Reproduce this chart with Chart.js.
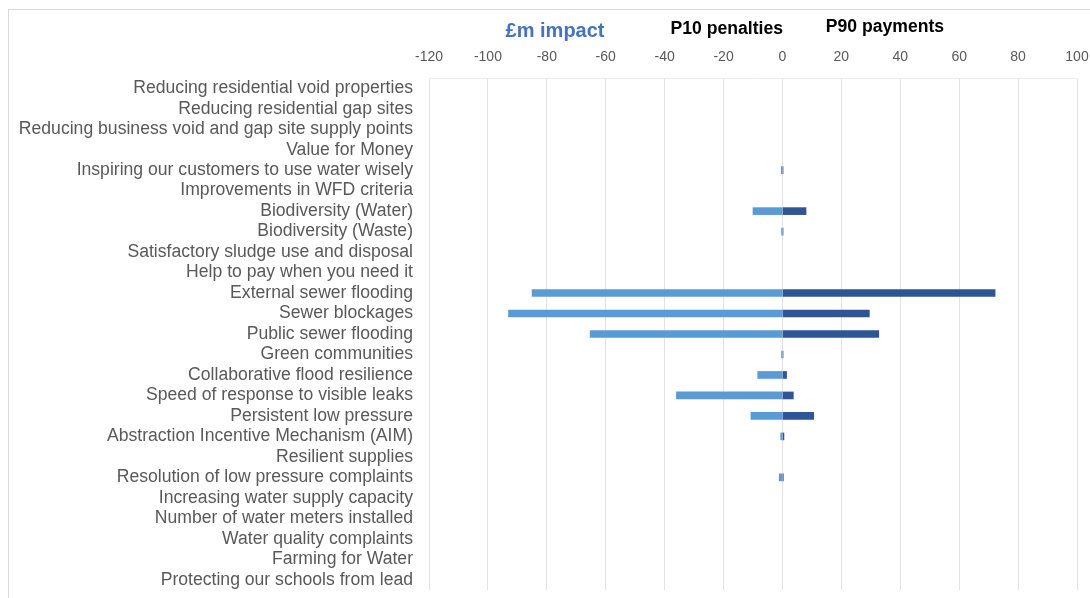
<!DOCTYPE html>
<html>
<head>
<meta charset="utf-8">
<script src="https://cdn.jsdelivr.net/npm/chart.js@4"></script>
<style>
  html, body { margin: 0; padding: 0; background: #fff; overflow: hidden; }
  #wrap { position: relative; width: 1090px; height: 598px; }
  #frame { position: absolute; left: 8px; top: 9px; width: 1100px; height: 600px; border: 1px solid #d9d9d9; box-sizing: border-box; }
  canvas { position: absolute; left: 0; top: 0; }
</style>
</head>
<body>
<div id="wrap">
  <div id="frame"></div>
  <canvas id="chart" width="1090" height="598"></canvas>
</div>
<script>
// Performance commitments and their £m range (P10 downside, P90 upside)
const categories = [
  "Reducing residential void properties",
  "Reducing residential gap sites",
  "Reducing business void and gap site supply points",
  "Value for Money",
  "Inspiring our customers to use water wisely",
  "Improvements in WFD criteria",
  "Biodiversity (Water)",
  "Biodiversity (Waste)",
  "Satisfactory sludge use and disposal",
  "Help to pay when you need it",
  "External sewer flooding",
  "Sewer blockages",
  "Public sewer flooding",
  "Green communities",
  "Collaborative flood resilience",
  "Speed of response to visible leaks",
  "Persistent low pressure",
  "Abstraction Incentive Mechanism (AIM)",
  "Resilient supplies",
  "Resolution of low pressure complaints",
  "Increasing water supply capacity",
  "Number of water meters installed",
  "Water quality complaints",
  "Farming for Water",
  "Protecting our schools from lead"
];

// null = no value for that commitment
const p10Penalties = [
  null, null, null, null, -0.4, null, -10, -0.3, null, null,
  -85, -93, -65.3, -0.3, -8.4, -36, -10.7, -0.6, null, -1.1,
  null, null, null, null, null
];

const p90Payments = [
  null, null, null, null, 0.2, null, 8, 0.2, null, null,
  72.2, 29.5, 32.7, 0.2, 1.4, 3.7, 10.6, 0.5, null, 0.3,
  null, null, null, null, null
];

const axisMin = -120;
const axisMax = 100;
const axisStep = 20;

const headings = [
  { text: "£m impact", at: -77.2, y: 31, color: "#4472C4", size: 20 },
  { text: "P10 penalties", at: -18.9, y: 29, color: "#000000", size: 17.6 },
  { text: "P90 payments", at: 34.8, y: 27, color: "#000000", size: 17.6 }
];

const headingPlugin = {
  id: "headings",
  afterDraw(chart) {
    const ctx = chart.ctx;
    const xs = chart.scales.x;
    ctx.save();
    ctx.textAlign = "center";
    ctx.textBaseline = "middle";
    headings.forEach(h => {
      ctx.font = "bold " + h.size + "px 'Liberation Sans', Arial, sans-serif";
      ctx.fillStyle = h.color;
      ctx.fillText(h.text, xs.getPixelForValue(h.at), h.y);
    });
    ctx.restore();
  }
};

const font = "'Liberation Sans', Arial, sans-serif";

new Chart(document.getElementById("chart"), {
  type: "bar",
  data: {
    labels: categories,
    datasets: [
      {
        label: "P10 penalties",
        data: p10Penalties,
        backgroundColor: "#5B9BD5",
        barThickness: 7
      },
      {
        label: "P90 payments",
        data: p90Payments,
        backgroundColor: "#2F5597",
        barThickness: 7
      }
    ]
  },
  options: {
    indexAxis: "y",
    responsive: false,
    animation: false,
    layout: { padding: { top: 0, right: 13, bottom: 8, left: 0 } },
    plugins: {
      legend: { display: false },
      tooltip: { enabled: false }
    },
    scales: {
      x: {
        position: "top",
        stacked: true,
        min: axisMin,
        max: axisMax,
        ticks: {
          stepSize: axisStep,
          color: "#595959",
          font: { family: font, size: 14 },
          padding: 12,
          maxRotation: 0
        },
        grid: { color: "#e3e3e3", drawTicks: false },
        border: { display: true, color: "#ececec" },
        afterFit(scale) {
          scale.height = 78;
          scale.paddingLeft = 0;
          scale.paddingRight = 0;
        }
      },
      y: {
        stacked: true,
        ticks: {
          color: "#595959",
          font: { family: font, size: 17.6 },
          padding: 16,
          autoSkip: false
        },
        grid: { display: false, drawTicks: false },
        border: { display: false },
        afterFit(scale) {
          scale.width = 429;
          scale.paddingTop = 0;
          scale.paddingBottom = 0;
        }
      }
    }
  },
  plugins: [headingPlugin]
});
</script>
</body>
</html>
